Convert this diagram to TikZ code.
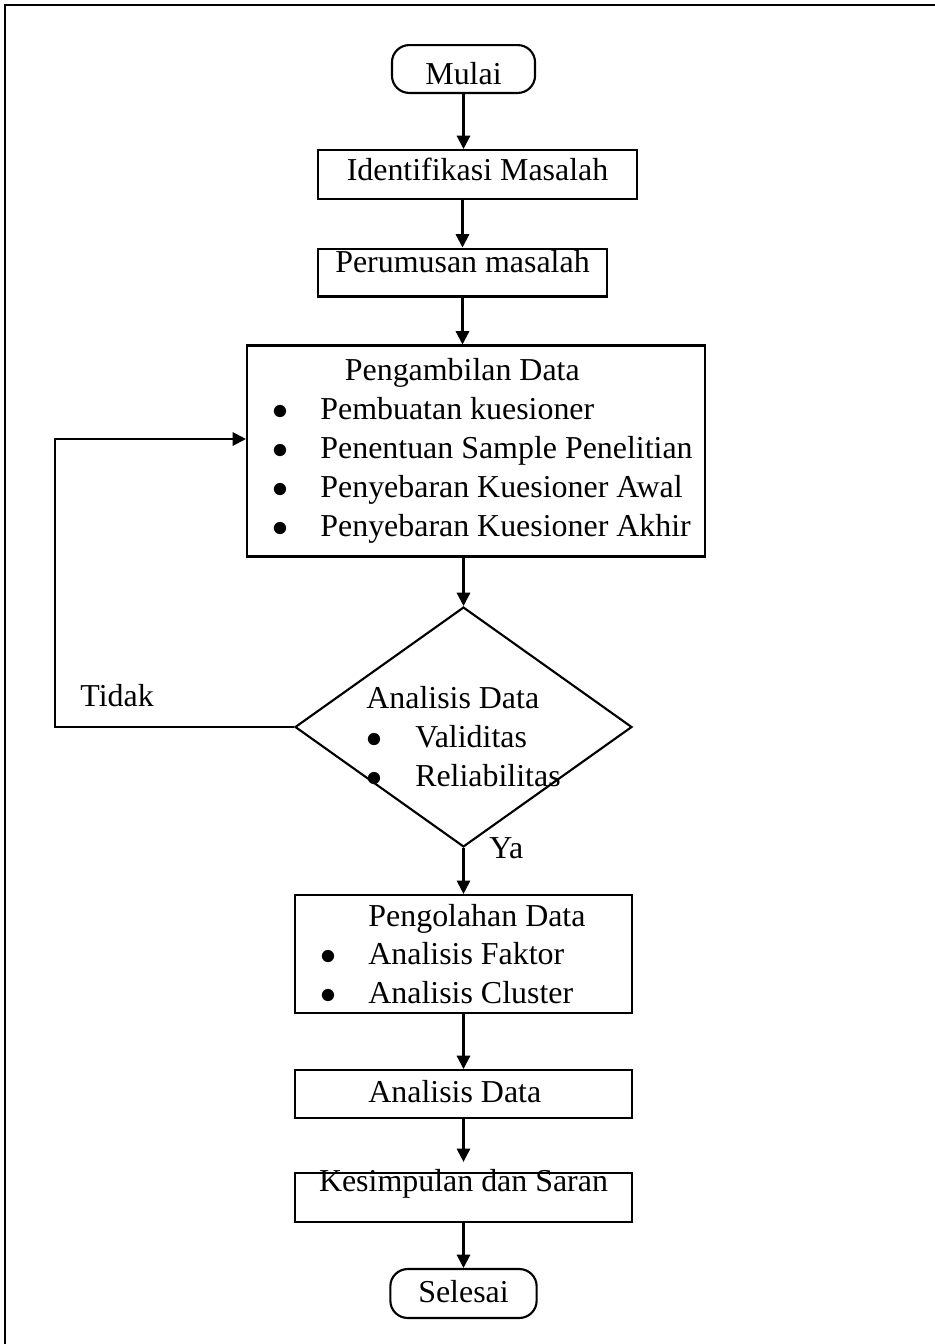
\documentclass[tikz,border=0pt]{standalone}
\usepackage{fontspec}
\setmainfont{Liberation Serif}
\usetikzlibrary{arrows.meta,shapes.geometric}

% bullet lines
\newcommand\itm[1]{\hspace*{9.6pt}\makebox[18pt][l]{$\bullet$}#1}
\newcommand\ditm[1]{\makebox[18.4pt][l]{$\bullet$}#1}

\tikzset{
	kotak/.style={draw, rectangle, line width=0.8pt, inner xsep=3pt, inner ysep=0pt},
	daftar/.style={kotak, inner xsep=0pt, align=flush left},
	terminal/.style={kotak, rounded corners=6.5pt},
	keputusan/.style={draw, diamond, line width=0.8pt, inner sep=0pt},
	panah/.style={line width=0.8pt, ->}
}

\begin{document}
\begin{tikzpicture}[x=0.376pt, y=-0.376pt, >={Triangle[length=5pt,width=5pt]}, font=\fontsize{12}{14.6}\selectfont]
	\useasboundingbox (0,0) rectangle (935,1344);
	\draw[line width=1.1pt] (935,5) -- (5,5) -- (5,1344);

	\node[terminal, minimum width=53.8pt, minimum height=18pt, text height=15pt, text depth=3pt] (mulai) at (463.5,69) {Mulai};
	\node[kotak, minimum width=120pt, minimum height=18.4pt, text height=9pt, text depth=4.8pt] (ident) at (477.5,174.5) {Identifikasi Masalah};
	\node[kotak, minimum width=108.7pt, minimum height=18pt, text height=9pt, text depth=9pt] (rumus) at (462.5,272.5) {Perumusan masalah};
	\node[daftar, minimum width=172.2pt, minimum height=79.3pt, text width=172.2pt] (data) at (476,451)
		{\hspace*{36.8pt}Pengambilan Data\\ \itm{Pembuatan kuesioner}\\ \itm{Penentuan Sample Penelitian}\\ \itm{Penyebaran Kuesioner Awal}\\ \itm{Penyebaran Kuesioner Akhir}};
	\node[keputusan, minimum width=126.7pt, minimum height=90.2pt,
		label={[align=flush left, yshift=-3.6pt]center:Analisis Data\\ \ditm{Validitas}\\ \ditm{Reliabilitas}}] (cek) at (463.5,727) {};
	\node[daftar, minimum width=126.7pt, minimum height=44.4pt, text width=126.7pt] (olah) at (463.5,954)
		{\hspace*{27.6pt}Pengolahan Data\\ \itm{Analisis Faktor}\\ \itm{Analisis Cluster}};
	\node[daftar, minimum width=126.7pt, minimum height=18pt, text width=126.7pt, text height=9pt, text depth=2.6pt] (anal) at (463.5,1094) {\hspace*{27.6pt}Analisis Data};
	\node[kotak, minimum width=126.7pt, minimum height=18.4pt, text height=7pt, text depth=11.2pt] (simpul) at (463.5,1197.5) {Kesimpulan dan Saran};
	\node[terminal, minimum width=55pt, minimum height=18.4pt, text height=9pt, text depth=2.6pt] (selesai) at (463.5,1293.5) {Selesai};

	\coordinate (kiri) at (55,439);

	\draw[panah] (mulai) -- (mulai |- ident.north);
	\draw[panah] (rumus |- ident.south) -- (rumus);
	\draw[panah] (rumus) -- (rumus |- data.north);
	\draw[panah] (cek |- data.south) -- (cek);
	\draw[panah] (cek) -- node[pos=0, anchor=west, xshift=6pt] {Ya} (olah);
	\draw[panah] (olah) -- (anal);
	\draw[panah, shorten >=3.8pt] (anal) -- (simpul);
	\draw[panah] (simpul) -- (selesai);

	% kembali ke pengambilan data
	\draw[panah] (cek.west) -| (kiri) node[pos=0.37, above, yshift=4pt] {Tidak} -- (kiri -| data.west);
\end{tikzpicture}
\end{document}
